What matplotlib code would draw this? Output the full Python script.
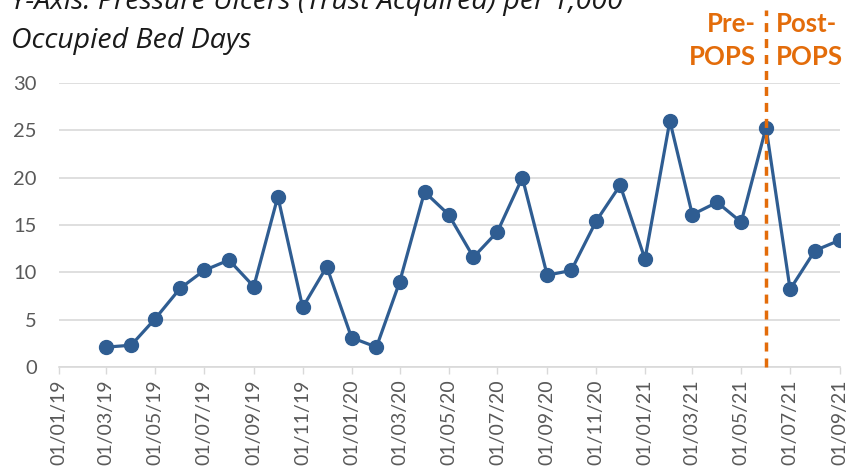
import pandas as pd
import matplotlib
matplotlib.use("Agg")
import matplotlib.pyplot as plt
import matplotlib.dates as mdates
import matplotlib.transforms as mtransforms

# monthly rate, Mar 2019 .. Sep 2021
months = pd.date_range("2019-03-01", "2021-09-01", freq="MS")
rates = [2.1, 2.3, 5.1, 8.3, 10.2, 11.3, 8.5, 18.0, 6.3, 10.6, 3.1, 2.1,
         9.0, 18.5, 16.1, 11.6, 14.3, 20.0, 9.7, 10.2, 15.4, 19.2, 11.4, 26.0,
         16.1, 17.4, 15.3, 25.3, 8.2, 12.3, 13.4]
tick_dates = pd.date_range("2019-01-01", "2021-09-01", freq="2MS")
pops_start = pd.Timestamp("2021-06-01")

blue = "#2f5d92"
orange = "#e36c0a"
grey = "#595959"

plt.rcParams["font.family"] = ["Lato", "DejaVu Sans"]

fig = plt.figure(figsize=(8.5, 4.76), dpi=100)
ax = fig.add_axes([0.0694, 0.229, 0.9186, 0.5966])

ax.plot(months, rates, color=blue, lw=2.3, marker="o", ms=10, zorder=3)

ax.set_ylim(0, 30)
ax.set_yticks(range(0, 31, 5))
ax.set_xlim(tick_dates[0], tick_dates[-1])
ax.set_xticks(tick_dates)
ax.xaxis.set_major_formatter(mdates.DateFormatter("%d/%m/%y"))
ax.tick_params(axis="x", rotation=90, labelsize=14, colors=grey, length=5,
               width=1, pad=4)
ax.tick_params(axis="x", color="#d9d9d9")
ax.tick_params(axis="y", labelsize=14.5, colors=grey, length=0, pad=16)
ax.grid(axis="y", color="#d9d9d9", lw=1.2)
ax.set_axisbelow(True)
for s in ["top", "right", "left"]:
    ax.spines[s].set_visible(False)
ax.spines["bottom"].set_color("#d9d9d9")
ax.spines["bottom"].set_linewidth(1.2)

# intervention line
ax.axvline(pops_start, ymin=0, ymax=1.257, color=orange, lw=2.5,
           dashes=(2.6, 2.0), clip_on=False, zorder=4)
trans = mtransforms.blended_transform_factory(ax.transData, ax.transAxes)
for dx, ha, label in [(-13, "right", "Pre-\nPOPS"), (12, "left", "Post-\nPOPS")]:
    ax.text(pops_start + pd.Timedelta(days=dx), 1.063, label, transform=trans,
            ha=ha, va="baseline", color=orange, fontsize=18.5,
            fontweight="bold", linespacing=1.45)

# y-axis caption, top line runs off the top edge as in the original
title_font = dict(ha="left", va="baseline", style="italic", fontsize=20.5,
                  color="#1a1a1a", family=["Open Sans", "DejaVu Sans"])
fig.text(0.013, 1 - 9 / 476, "Y-Axis: Pressure Ulcers (Trust Acquired) per 1,000",
         **title_font)
fig.text(0.013, 1 - 48 / 476, "Occupied Bed Days", **title_font)

fig.savefig("out.png", dpi=100)
